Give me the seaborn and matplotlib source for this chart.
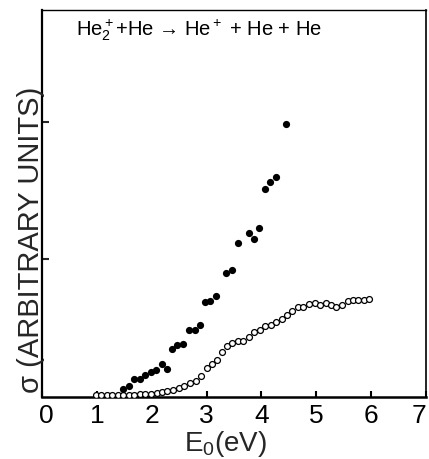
import numpy as np
import pandas as pd
import seaborn as sns
import matplotlib
matplotlib.use("Agg")
import matplotlib.pyplot as plt
from matplotlib.transforms import ScaledTranslation

# ---- data ----
filled_x = [1.48, 1.59, 1.68, 1.78, 1.88, 1.98, 2.08, 2.19, 2.28, 2.37, 2.47, 2.57,
            2.68, 2.79, 2.88, 2.97, 3.07, 3.17, 3.36, 3.46, 3.57, 3.77, 3.87, 3.96,
            4.06, 4.16, 4.26, 4.44]
filled_y = [0.058, 0.080, 0.128, 0.132, 0.157, 0.180, 0.198, 0.236, 0.202, 0.350,
            0.380, 0.385, 0.487, 0.487, 0.525, 0.690, 0.700, 0.735, 0.900, 0.920,
            1.120, 1.190, 1.145, 1.230, 1.510, 1.560, 1.600, 1.985]

open_x = [0.98, 1.08, 1.18, 1.28, 1.38, 1.48, 1.59, 1.68, 1.79, 1.88, 1.99, 2.09,
          2.19, 2.28, 2.39, 2.49, 2.59, 2.70, 2.80, 2.90, 3.00, 3.10, 3.19, 3.28,
          3.38, 3.47, 3.57, 3.67, 3.77, 3.87, 3.97, 4.07, 4.17, 4.27, 4.37, 4.47,
          4.56, 4.67, 4.76, 4.87, 4.97, 5.07, 5.17, 5.27, 5.36, 5.46, 5.57, 5.67,
          5.76, 5.87, 5.96]
open_y = [0.015, 0.015, 0.015, 0.015, 0.015, 0.015, 0.015, 0.018, 0.020, 0.020,
          0.024, 0.030, 0.036, 0.044, 0.053, 0.065, 0.082, 0.099, 0.118, 0.155,
          0.208, 0.238, 0.272, 0.328, 0.368, 0.390, 0.404, 0.404, 0.433, 0.474,
          0.488, 0.515, 0.525, 0.548, 0.568, 0.594, 0.622, 0.655, 0.652, 0.672,
          0.680, 0.668, 0.685, 0.670, 0.656, 0.670, 0.695, 0.707, 0.707, 0.707,
          0.714]

x_ticks = [0, 1, 2, 3, 4, 5, 6, 7]
x_tick_labels = ["0", "1", "2", "3", "4", "5", "6", "7"]
y_ticks = [1, 2]

title_text = "He$_2^+$+He → He$^+$ + He + He"
x_label = "E$_0$(eV)"
y_label = "σ (ARBITRARY UNITS)"

# ---- style ----
sns.set_theme(style="white")
plt.rcParams["font.family"] = ["Liberation Sans", "DejaVu Sans"]
plt.rcParams["mathtext.fontset"] = "custom"
plt.rcParams["mathtext.rm"] = "Liberation Sans"
plt.rcParams["mathtext.it"] = "Liberation Sans"
plt.rcParams["mathtext.bf"] = "Liberation Sans"

fig = plt.figure(figsize=(4.29, 4.60), dpi=100, facecolor="white")
ax = fig.add_axes([42 / 429, 1 - 398 / 460, (426 - 42) / 429, (398 - 11) / 460])
ax.set_facecolor("white")

df_f = pd.DataFrame({"E": filled_x, "sigma": filled_y})
df_o = pd.DataFrame({"E": open_x, "sigma": open_y})

sns.scatterplot(data=df_o, x="E", y="sigma", ax=ax, marker="o", s=18,
                color="white", edgecolor="black", linewidth=0.9, zorder=3)
sns.scatterplot(data=df_f, x="E", y="sigma", ax=ax, marker="o", s=27,
                color="black", edgecolor="black", linewidth=0, zorder=4)

ax.set_xlim(0, 6.98)
ax.set_ylim(0, 2.81)

ax.set_xticks(x_ticks)
ax.set_xticklabels(x_tick_labels, fontsize=19)
ax.set_yticks(y_ticks)
ax.set_yticklabels([])
ax.tick_params(axis="x", direction="in", length=4.5, width=1.5, pad=4, colors="black",
               bottom=True)
ax.tick_params(axis="y", direction="in", length=5, width=1.5, left=True)

labs = ax.get_xticklabels()
labs[0].set_transform(labs[0].get_transform() + ScaledTranslation(4 / 100, 0, fig.dpi_scale_trans))
labs[-1].set_transform(labs[-1].get_transform() + ScaledTranslation(-7 / 100, 0, fig.dpi_scale_trans))

for name, sp in ax.spines.items():
    sp.set_color("black")
    sp.set_visible(True)
ax.spines["left"].set_linewidth(1.6)
ax.spines["bottom"].set_linewidth(1.8)
ax.spines["top"].set_linewidth(1.0)
ax.spines["right"].set_linewidth(1.2)

ax.set_xlabel("")
ax.set_ylabel("")

ax.text(0.088, 0.95, title_text, transform=ax.transAxes, fontsize=14.5,
        ha="left", va="center", color="black")

fig.text(226 / 429, 1 - 451 / 460, x_label, fontsize=20, ha="center", va="baseline")
fig.text(31 / 429, 1 - 240 / 460, y_label, fontsize=21, ha="center", va="center",
         rotation=90)

fig.savefig("out.png", dpi=100, facecolor="white")
